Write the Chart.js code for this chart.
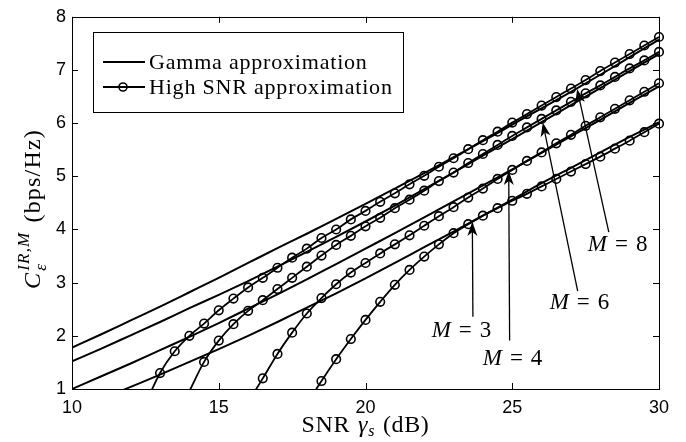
<!DOCTYPE html>
<html>
<head>
<meta charset="utf-8">
<script src="https://cdn.jsdelivr.net/npm/chart.js@4.4.0/dist/chart.umd.min.js"></script>
<style>
html, body { margin: 0; padding: 0; background: #fff; }
#wrap { width: 686px; height: 442px; }
</style>
</head>
<body>
<div id="wrap"><canvas id="myChart"></canvas></div>
<script>
// SNR (dB) de las curvas Gamma
var snrGamma = [10, 11, 12, 13, 14, 15, 16, 17, 18, 19, 20, 21, 22, 23, 24, 25, 26, 27, 28, 29, 30];
var gammaM3 = [0.60, 0.81, 1.04, 1.27, 1.51, 1.75, 2.00, 2.26, 2.53, 2.80, 3.08, 3.37, 3.67, 3.96, 4.26, 4.56, 4.87, 5.16, 5.45, 5.74, 6.02];
var gammaM4 = [1.00, 1.24, 1.48, 1.73, 1.98, 2.24, 2.51, 2.78, 3.06, 3.35, 3.64, 3.93, 4.23, 4.53, 4.83, 5.13, 5.44, 5.75, 6.06, 6.38, 6.69];
var gammaM6 = [1.52, 1.76, 2.01, 2.26, 2.52, 2.77, 3.03, 3.30, 3.58, 3.86, 4.15, 4.45, 4.76, 5.07, 5.39, 5.70, 6.02, 6.34, 6.66, 6.98, 7.30];
var gammaM8 = [1.78, 2.03, 2.29, 2.55, 2.82, 3.09, 3.37, 3.65, 3.92, 4.20, 4.48, 4.77, 5.06, 5.36, 5.66, 5.97, 6.28, 6.59, 6.91, 7.24, 7.57];

// SNR (dB) de la aproximacion de alta SNR, cada 0.5 dB
var snrHigh = [12.5, 13, 13.5, 14, 14.5, 15, 15.5, 16, 16.5, 17, 17.5, 18, 18.5, 19, 19.5, 20, 20.5, 21,
               21.5, 22, 22.5, 23, 23.5, 24, 24.5, 25, 25.5, 26, 26.5, 27, 27.5, 28, 28.5, 29, 29.5, 30];
var highM8 = [0.72, 1.30, 1.71, 2.00, 2.23, 2.48, 2.70, 2.91, 3.09, 3.28, 3.47, 3.64, 3.84, 4.00, 4.19, 4.35, 4.52, 4.68,
              4.85, 5.01, 5.18, 5.34, 5.51, 5.68, 5.84, 6.01, 6.17, 6.33, 6.49, 6.65, 6.81, 6.98, 7.14, 7.30, 7.46, 7.62];
var highM6 = [null, null, null, 0.96, 1.51, 1.91, 2.22, 2.47, 2.67, 2.88, 3.09, 3.30, 3.51, 3.71, 3.88, 4.06, 4.22, 4.40,
              4.56, 4.73, 4.91, 5.07, 5.25, 5.42, 5.59, 5.76, 5.92, 6.08, 6.24, 6.40, 6.56, 6.71, 6.87, 7.03, 7.18, 7.34];
var highM4 = [null, null, null, null, null, null, null, 0.75, 1.20, 1.66, 2.06, 2.42, 2.71, 2.97, 3.19, 3.37, 3.55, 3.72,
              3.89, 4.07, 4.25, 4.42, 4.60, 4.77, 4.95, 5.12, 5.29, 5.45, 5.62, 5.78, 5.95, 6.11, 6.27, 6.43, 6.59, 6.75];
var highM3 = [null, null, null, null, null, null, null, null, null, null, null, 0.72, 1.15, 1.56, 1.94, 2.30, 2.64, 2.96,
              3.24, 3.49, 3.72, 3.93, 4.10, 4.26, 4.40, 4.54, 4.67, 4.81, 4.95, 5.09, 5.23, 5.37, 5.52, 5.67, 5.83, 5.99];

var xTicks = [10, 15, 20, 25, 30];
var yTicks = [1, 2, 3, 4, 5, 6, 7, 8];

// Flechas: M, punta (x, y), cola (x, y), centro de la etiqueta (x, y)
var flechas = [
  { m: '3', punta: [23.64, 4.14], cola: [23.66, 2.36], texto: [23.27, 2.13] },
  { m: '4', punta: [24.88, 5.10], cola: [24.91, 1.91], texto: [25.01, 1.61] },
  { m: '6', punta: [26.04, 6.01], cola: [27.23, 2.84], texto: [27.29, 2.65] },
  { m: '8', punta: [27.21, 6.64], cola: [28.29, 3.95], texto: [28.59, 3.75] }
];

var SERIF = '"Liberation Serif", "Times New Roman", serif';
var SANS = '"Liberation Sans", Arial, sans-serif';

function puntos(xs, ys) {
  var out = [];
  for (var i = 0; i < xs.length; i++) {
    if (ys[i] !== null) out.push({ x: xs[i], y: ys[i] });
  }
  return out;
}

function serieGamma(ys) {
  return {
    label: 'Gamma approximation',
    data: puntos(snrGamma, ys),
    borderColor: '#000',
    borderWidth: 2,
    pointRadius: 0,
    cubicInterpolationMode: 'monotone',
    clip: { left: 0, top: 0, right: 8, bottom: 0 }
  };
}

function serieHigh(ys) {
  return {
    label: 'High SNR approximation',
    data: puntos(snrHigh, ys),
    borderColor: '#000',
    borderWidth: 1.8,
    pointStyle: 'circle',
    pointRadius: function (c) { return (c.raw && c.raw.y < 1) ? 0 : 4.3; },
    pointBorderWidth: 1.6,
    pointBorderColor: '#000',
    pointBackgroundColor: 'rgba(0,0,0,0)',
    cubicInterpolationMode: 'monotone',
    clip: { left: 0, top: 0, right: 8, bottom: 0 }
  };
}

function espaciado(c, v) { if ('letterSpacing' in c) c.letterSpacing = v; }

// Dibuja piezas de texto seguidas (fuente, texto, desplazamiento vertical)
function piezas(c, partes, x0, y0) {
  var x = x0;
  partes.forEach(function (p) {
    c.font = p.font;
    c.fillText(p.t, x, y0 + (p.dy || 0));
    x += c.measureText(p.t).width + (p.gap || 0);
  });
}
function anchoPiezas(c, partes) {
  var w = 0;
  partes.forEach(function (p) {
    c.font = p.font;
    w += c.measureText(p.t).width + (p.gap || 0);
  });
  return w;
}

function flecha(c, x1, y1, x2, y2) {
  var ang = Math.atan2(y2 - y1, x2 - x1);
  var L = 14, W = 5, N = 4;
  c.beginPath();
  c.moveTo(x1, y1);
  c.lineTo(x2 - Math.cos(ang) * (L - N), y2 - Math.sin(ang) * (L - N));
  c.lineWidth = 1.3;
  c.stroke();
  c.save();
  c.translate(x2, y2);
  c.rotate(ang);
  c.beginPath();
  c.moveTo(0, 0);
  c.lineTo(-L, -W);
  c.lineTo(-L + N, 0);
  c.lineTo(-L, W);
  c.closePath();
  c.fill();
  c.restore();
}

var marco = {
  id: 'marco',
  afterDraw: function (chart) {
    var c = chart.ctx, a = chart.chartArea;
    var xs = chart.scales.x, ys = chart.scales.y;
    c.save();
    c.strokeStyle = '#000';
    c.fillStyle = '#000';

    // caja
    c.lineWidth = 1;
    c.strokeRect(Math.round(a.left) + 0.5, Math.round(a.top) + 0.5,
                 Math.round(a.right - a.left), Math.round(a.bottom - a.top));

    // marcas hacia dentro
    c.beginPath();
    xTicks.forEach(function (v) {
      var px = Math.round(xs.getPixelForValue(v)) + 0.5;
      c.moveTo(px, a.bottom); c.lineTo(px, a.bottom - 6);
      c.moveTo(px, a.top); c.lineTo(px, a.top + 6);
    });
    yTicks.forEach(function (v) {
      var py = Math.round(ys.getPixelForValue(v)) + 0.5;
      c.moveTo(a.left, py); c.lineTo(a.left + 6, py);
      c.moveTo(a.right, py); c.lineTo(a.right - 6, py);
    });
    c.stroke();

    // leyenda
    var lx = 93.5, ly = 32.5, lw = 310, lh = 80;
    c.fillStyle = '#fff';
    c.fillRect(lx, ly, lw, lh);
    c.fillStyle = '#000';
    c.lineWidth = 1;
    c.strokeRect(lx, ly, lw, lh);
    c.lineWidth = 2;
    c.beginPath();
    c.moveTo(103, 62); c.lineTo(145, 62);
    c.moveTo(103, 87); c.lineTo(145, 87);
    c.stroke();
    c.lineWidth = 1.6;
    c.beginPath();
    c.arc(123, 87, 4, 0, Math.PI * 2);
    c.stroke();
    c.font = '22px ' + SERIF;
    c.textBaseline = 'alphabetic';
    c.textAlign = 'left';
    espaciado(c, '0.8px');
    c.fillText(chart.data.datasets[0].label, 149, 69);
    c.fillText(chart.data.datasets[4].label, 149, 94);
    espaciado(c, '0px');

    // flechas y etiquetas M = k
    flechas.forEach(function (f) {
      flecha(c, xs.getPixelForValue(f.cola[0]), ys.getPixelForValue(f.cola[1]),
                xs.getPixelForValue(f.punta[0]), ys.getPixelForValue(f.punta[1]));
      var partes = [
        { t: 'M', font: 'italic 23px ' + SERIF, gap: 8 },
        { t: '=', font: '23px ' + SERIF, gap: 8 },
        { t: f.m, font: '23px ' + SERIF }
      ];
      var w = anchoPiezas(c, partes);
      piezas(c, partes, xs.getPixelForValue(f.texto[0]) - w / 2, ys.getPixelForValue(f.texto[1]) + 8);
    });

    // titulo eje x: SNR gamma_s (dB)
    espaciado(c, '0.6px');
    var px = [
      { t: 'SNR', font: '24px ' + SERIF, gap: 8 },
      { t: '\u03B3', font: 'italic 24px ' + SERIF, gap: 0 },
      { t: 's', font: 'italic 16px ' + SERIF, dy: 4, gap: 8 },
      { t: '(dB)', font: '24px ' + SERIF }
    ];
    var wx = anchoPiezas(c, px);
    piezas(c, px, (a.left + a.right) / 2 - wx / 2, 432);

    // titulo eje y: C_eps^{IR,M} (bps/Hz)
    c.save();
    c.translate(40, 209);
    c.rotate(-Math.PI / 2);
    espaciado(c, '1.2px');
    c.font = 'italic 17px ' + SERIF;
    var wSup = c.measureText('IR,M').width;
    c.font = 'italic 24px ' + SERIF;
    var wC = c.measureText('C').width;
    c.font = '24px ' + SERIF;
    var wU = c.measureText('(bps/Hz)').width;
    var total = wC + 1 + wSup + 9 + wU;
    var x0 = -total / 2;
    c.font = 'italic 24px ' + SERIF;
    c.fillText('C', x0, 0);
    c.font = 'italic 17px ' + SERIF;
    c.fillText('IR,M', x0 + wC + 1, -11);
    c.fillText('\u03B5', x0 + wC + 1, 6);
    c.font = '24px ' + SERIF;
    c.fillText('(bps/Hz)', x0 + wC + 1 + wSup + 9, 0);
    c.restore();
    espaciado(c, '0px');

    c.restore();
  }
};

var ctx = document.getElementById('myChart').getContext('2d');

var myChart = new Chart(ctx, {
  type: 'line',
  data: {
    datasets: [
      serieGamma(gammaM3), serieGamma(gammaM4), serieGamma(gammaM6), serieGamma(gammaM8),
      serieHigh(highM3), serieHigh(highM4), serieHigh(highM6), serieHigh(highM8)
    ]
  },
  options: {
    responsive: true,
    maintainAspectRatio: false,
    animation: false,
    layout: { padding: { left: 0, right: 27, top: 12, bottom: 0 } },
    plugins: { legend: { display: false }, tooltip: { enabled: false } },
    scales: {
      x: {
        type: 'linear',
        min: 10, max: 30,
        afterFit: function (s) { s.height = 53; },
        afterBuildTicks: function (s) { s.ticks = xTicks.map(function (v) { return { value: v }; }); },
        grid: { display: false, drawTicks: false },
        border: { display: false },
        ticks: { color: '#000', padding: 8, maxRotation: 0, font: { family: SANS, size: 18 } }
      },
      y: {
        type: 'linear',
        min: 1, max: 8,
        afterFit: function (s) { s.width = 72; },
        afterBuildTicks: function (s) { s.ticks = yTicks.map(function (v) { return { value: v }; }); },
        grid: { display: false, drawTicks: false },
        border: { display: false },
        ticks: { color: '#000', padding: 6, font: { family: SANS, size: 18 } }
      }
    }
  },
  plugins: [marco]
});
</script>
</body>
</html>
